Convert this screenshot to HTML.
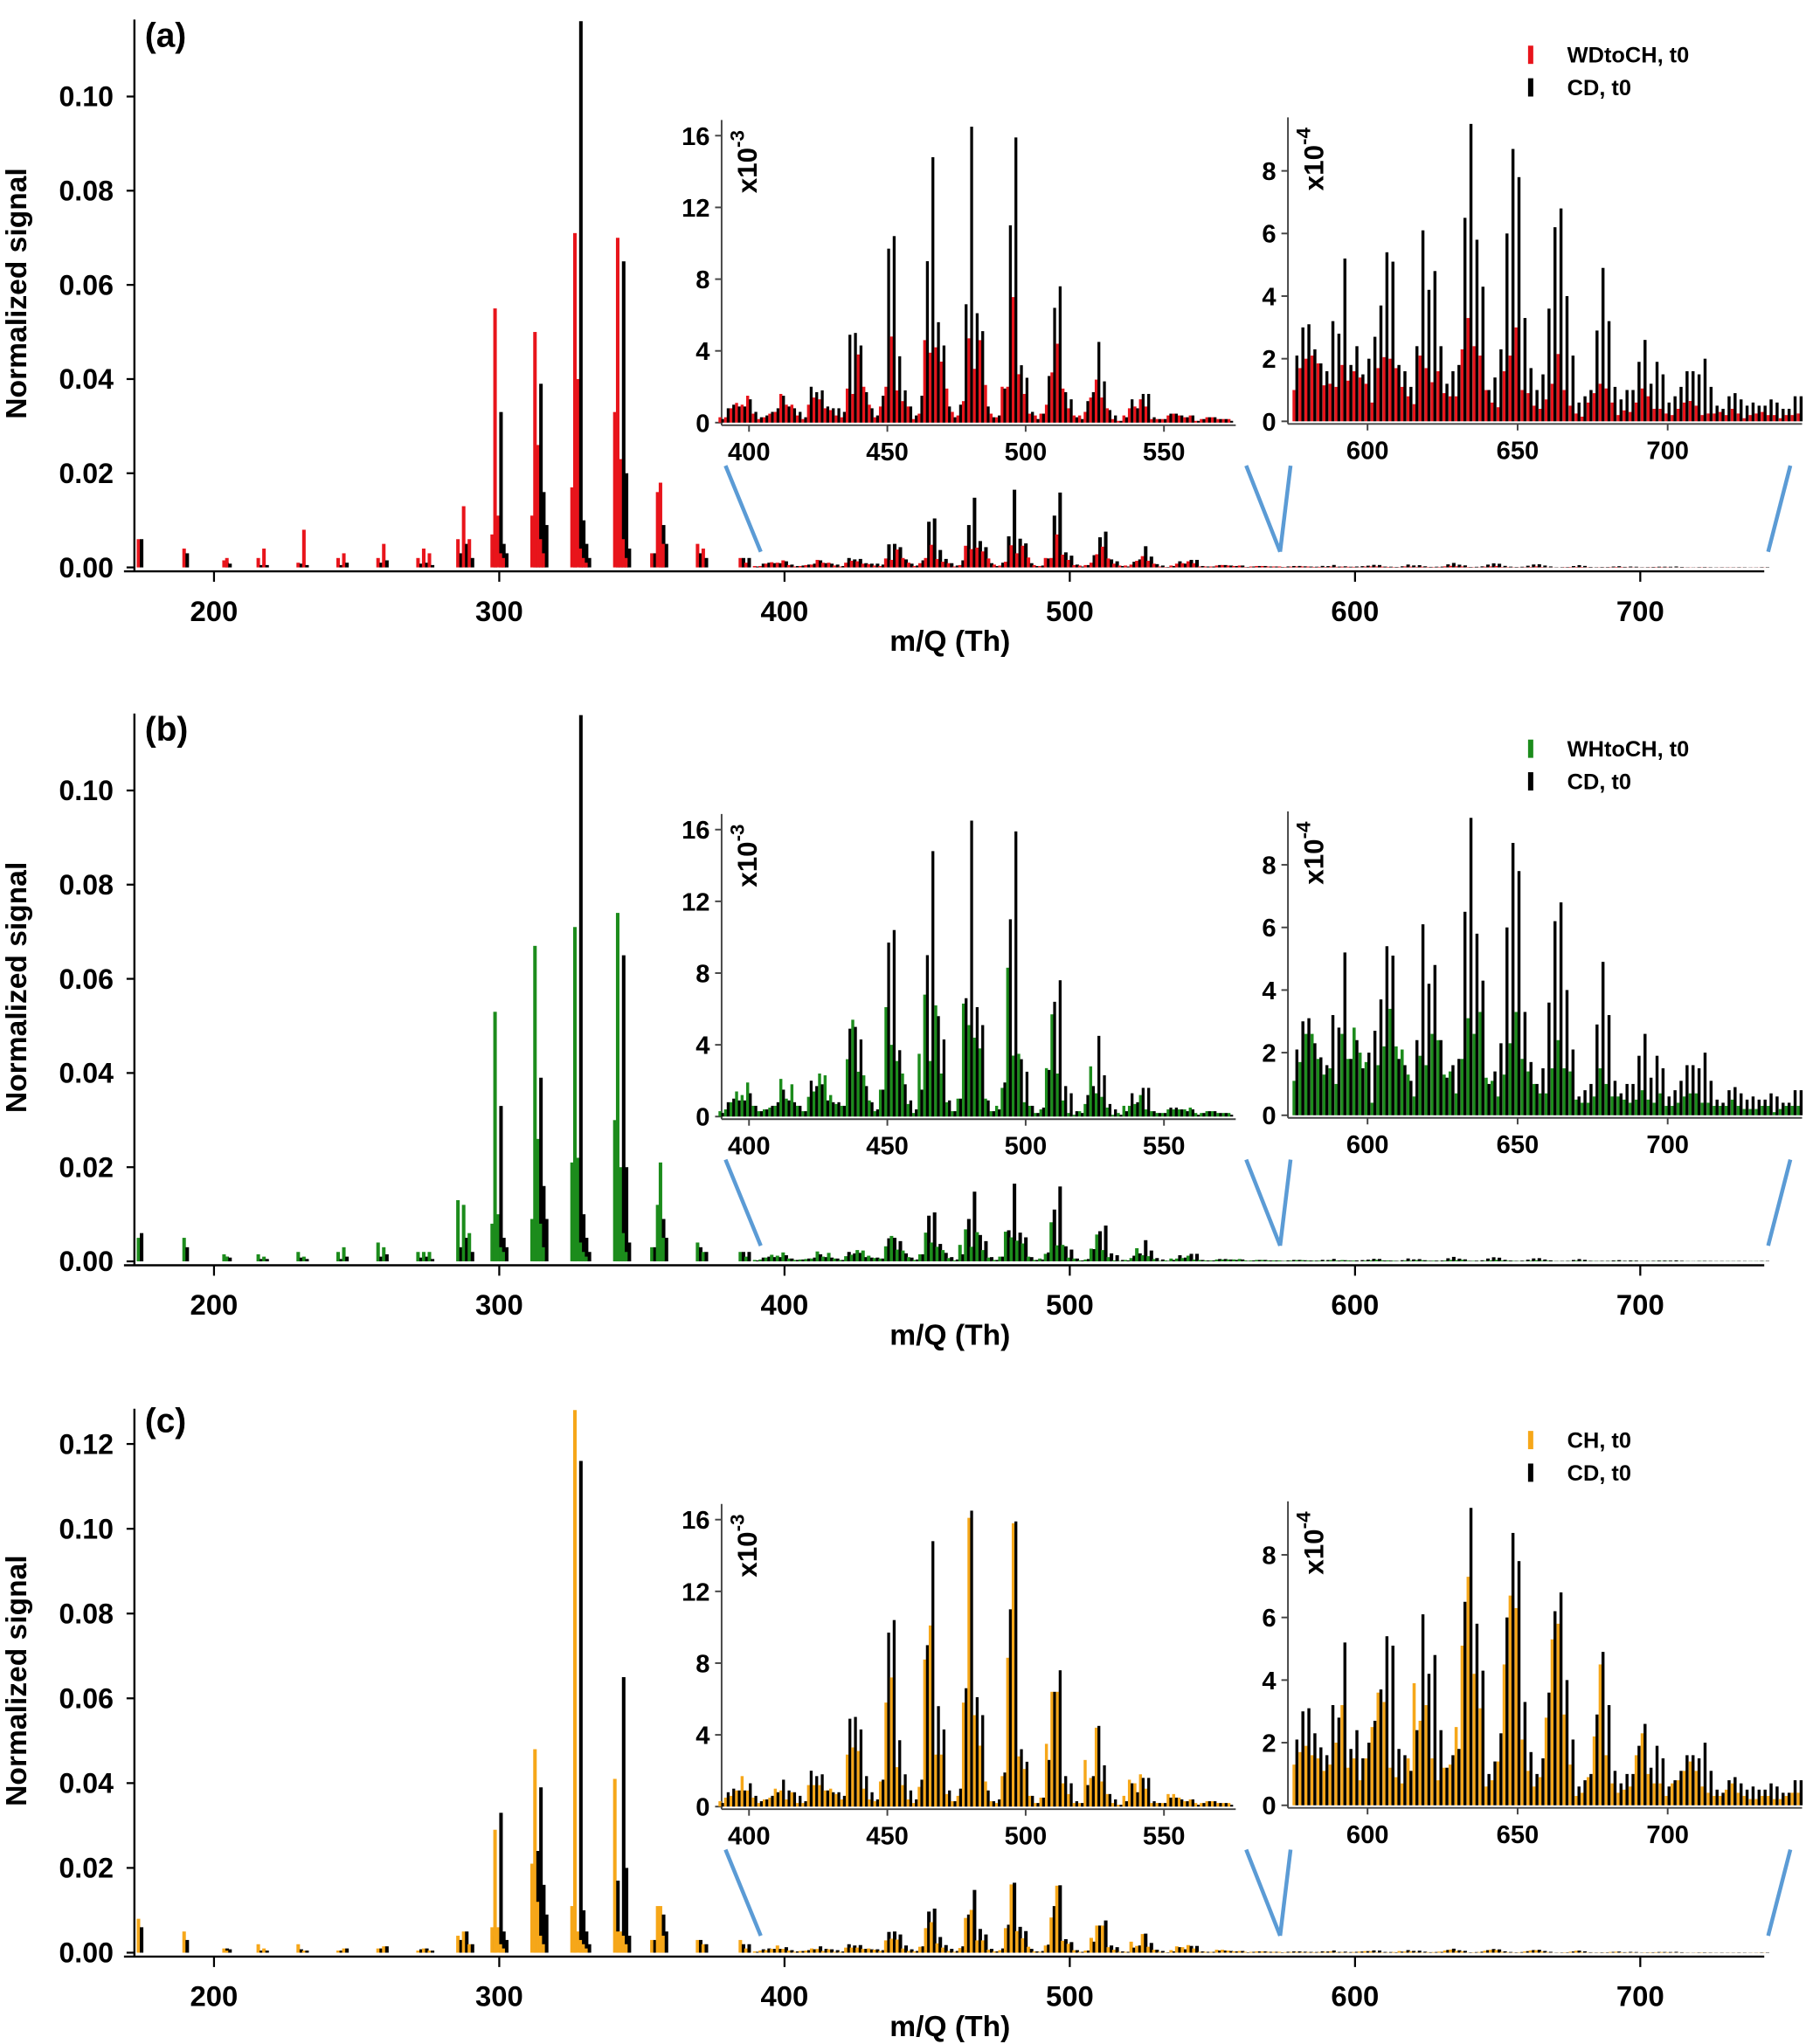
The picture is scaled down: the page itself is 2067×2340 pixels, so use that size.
<!DOCTYPE html>
<html><head><meta charset="utf-8">
<style>
html,body{margin:0;padding:0;background:#fff;}
svg{display:block;font-family:"Liberation Sans",Arial,sans-serif;font-weight:bold;}
</style></head>
<body>
<svg id="fig" width="2067" height="2340" viewBox="0 0 1384 1567" preserveAspectRatio="none" xmlns="http://www.w3.org/2000/svg"></svg>
<script>
// ---- data ----
const mainXTicks=[200,300,400,500,600,700];
const yTicksAB=[0,0.02,0.04,0.06,0.08,0.10];
const yTicksC=[0,0.02,0.04,0.06,0.08,0.10,0.12];
const in1XTicks=[400,450,500,550];
const in1YTicks=[0,4,8,12,16];
const in2XTicks=[600,650,700];
const in2YTicks=[0,2,4,6,8];
const seriesNames=["WDtoCH, t0","WHtoCH, t0","CH, t0"];
const refName="CD, t0";

const lowMass=[174,190,204,205,216,218,230,232,244,246,258,260,272,274,276,286,288,290,298,299,300,301,302,312,313,314,315,316,326,327,328,329,330,331,341,342,343,344,345,354,356,357,358,370,372,385,387];
const lowRed=[.006,.004,.0015,.002,.002,.004,.001,.008,.002,.003,.002,.005,.002,.004,.003,.006,.013,.006,.007,.055,.011,.003,.002,.011,.050,.026,.006,.003,.017,.071,.040,.004,.002,.001,.033,.070,.023,.006,.002,.003,.016,.018,.005,.005,.004,.002,.001];
const lowGreen=[.005,.005,.0015,.001,.0015,.001,.002,.001,.002,.003,.004,.003,.002,.002,.002,.013,.012,.006,.008,.053,.010,.003,.002,.009,.067,.026,.008,.003,.021,.071,.022,.004,.002,.001,.030,.074,.020,.006,.002,.003,.012,.021,.005,.004,.002,.002,.001];
const lowOrange=[.008,.005,.001,.0005,.002,.001,.002,.0005,.0005,.001,.001,.0015,.0005,.001,.0005,.004,.005,.002,.006,.029,.006,.002,.001,.021,.048,.012,.004,.002,.011,.128,.005,.003,.002,.001,.041,.005,.005,.004,.002,.003,.011,.011,.004,.003,.002,.003,.001];
const lowBlack=[.006,.003,.001,.0008,.0005,.0005,.0008,.0005,.0005,.001,.001,.0015,.0008,.001,.0005,.003,.005,.002,.004,0,.033,.005,.003,.004,.024,.039,.016,.009,.005,0,.116,.010,.005,.002,.017,.003,.065,.020,.004,.003,.006,.009,.005,.003,.002,.002,.002];

const in1Start=390; // step 2, x10^-3
const in1Black=[0.2,0.8,1.0,0.9,0.9,1.3,0.6,0.3,0.4,0.6, 0.8,1.5,0.9,0.8,0.6,0.3,2.0,1.7,1.8,0.9, 0.8,0.8,0.6,4.9,5.0,4.3,1.7,0.8,0.4,1.5, 9.7,10.4,3.7,1.8,0.9,0.4,1.5,9.0,14.8,5.6, 4.3,0.9,0.3,1.0,6.6,16.5,6.1,5.1,0.9,0.3, 0.4,1.9,11.0,15.9,3.2,2.5,0.6,0.2,0.5,2.6, 6.4,7.6,1.7,1.3,0.3,0.2,1.2,1.7,4.5,2.3, 0.7,0.4,0.1,0.3,1.3,0.8,1.6,1.6,0.3,0.2, 0.2,0.5,0.5,0.4,0.3,0.4,0.1,0.2,0.3,0.3, 0.2,0.2,0.1];
const in1Red=[0.3,0.3,0.8,1.1,1.0,1.5,0.5,0.2,0.3,0.5, 0.6,1.6,1.0,1.0,0.4,0.2,1.0,1.4,1.3,0.8, 0.7,0.4,0.3,1.9,1.6,3.8,2.0,1.0,0.3,0.9, 2.0,4.8,1.8,1.2,0.9,0.2,0.5,4.6,3.9,4.2, 3.4,1.9,0.6,0.4,1.2,4.7,3.0,4.6,2.1,0.5, 0.3,2.0,2.0,7.0,2.7,1.6,0.5,0.4,0.5,1.0, 2.8,4.4,1.9,0.8,0.4,0.4,0.6,1.4,2.4,1.4, 0.8,0.2,0.1,0.4,0.8,0.9,1.3,0.9,0.2,0.2, 0.2,0.4,0.5,0.4,0.3,0.4,0.1,0.2,0.3,0.3, 0.2,0.2,0.2];
const in1Green=[0.3,0.4,0.8,1.4,1.2,1.9,0.6,0.3,0.4,0.5, 0.6,2.1,1.0,1.8,0.6,0.3,1.1,1.4,2.4,2.3, 1.2,0.7,0.6,3.2,5.4,2.5,2.3,0.9,0.3,1.5, 6.1,4.0,3.1,2.4,0.7,0.2,3.5,6.8,3.1,6.2, 2.4,0.8,0.3,1.0,6.3,5.1,4.4,3.8,1.0,0.3, 0.6,1.6,8.3,3.4,3.5,0.8,0.6,0.2,0.4,2.7, 5.7,2.4,0.9,0.2,0.1,0.3,0.7,2.8,1.3,1.1, 0.5,0.1,0.2,0.6,0.6,0.7,1.2,0.4,0.3,0.2, 0.2,0.4,0.4,0.4,0.4,0.5,0.2,0.2,0.3,0.3, 0.2,0.2,0.2];
const in1Orange=[0.3,0.5,0.6,0.9,1.7,0.9,0.5,0.2,0.4,0.5, 1.0,0.9,0.4,0.8,0.2,0.2,1.2,1.2,1.2,0.9, 1.0,0.7,0.4,2.9,3.3,3.1,1.0,0.4,0.3,1.4, 5.8,7.2,2.2,1.2,0.4,0.2,1.1,8.2,10.1,2.9, 2.9,0.7,0.3,0.6,5.8,16.1,5.1,3.4,1.4,0.3, 0.2,1.7,8.3,15.8,2.8,2.1,0.6,0.2,0.5,3.5, 6.4,6.4,1.3,0.7,0.2,0.2,2.6,1.6,4.4,1.4, 0.7,0.2,0.1,0.6,1.5,1.3,1.8,1.0,0.2,0.2, 0.2,0.7,0.7,0.5,0.3,0.4,0.2,0.2,0.3,0.3, 0.2,0.2,0.2];

const in2Start=576; // step 2, x10^-4
const in2Black=[2.1,3.0,3.1,2.3,1.85,1.6,3.2,2.8,5.2,1.8, 2.4,1.5,2.0,2.7,3.7,5.4,5.1,1.8,1.6,1.1, 2.4,6.1,4.2,4.8,2.4,1.2,1.6,1.8,6.5,9.5, 5.8,4.3,1.0,1.4,2.3,6.0,8.7,7.8,3.3,1.7, 1.0,1.5,3.6,6.2,6.8,4.0,2.1,0.6,0.8,1.0, 2.9,4.9,3.2,1.1,0.7,1.0,1.0,1.9,2.6,1.2, 1.9,1.5,0.6,0.8,1.1,1.6,1.6,1.5,2.0,1.1, 0.5,0.4,0.8,0.9,0.7,0.5,0.6,0.5,0.5,0.7, 0.6,0.4,0.4,0.8,0.8];
const in2Red=[1.0,1.7,2.0,2.1,1.85,1.15,1.2,1.1,1.8,1.3, 1.6,1.4,1.2,0.6,1.7,2.05,2.0,1.7,1.1,0.8, 0.55,2.1,1.7,1.25,1.6,0.9,0.8,0.8,2.3,3.3, 2.4,2.1,1.0,0.6,0.45,1.6,2.1,3.0,1.0,0.9, 0.5,0.4,0.7,1.2,2.15,1.0,0.5,0.25,0.15,0.6, 0.9,1.2,1.05,0.6,0.2,0.35,0.3,0.6,1.05,0.8, 0.4,0.4,0.25,0.2,0.4,0.6,0.65,0.5,0.2,0.25, 0.25,0.3,0.2,0.4,0.25,0.1,0.2,0.25,0.3,0.2, 0.2,0.1,0.2,0.2,0.25];
const in2Green=[1.1,1.7,2.6,2.6,1.8,1.3,1.5,1.0,2.6,1.8, 2.8,2.0,1.7,0.4,1.6,2.2,3.4,2.2,2.1,1.3, 0.6,1.9,1.6,2.6,2.4,1.3,1.4,0.7,1.8,3.1, 2.6,3.3,1.2,1.1,0.6,1.3,2.3,3.3,1.8,1.4, 1.0,0.7,0.7,1.5,2.4,1.5,1.4,0.5,0.4,0.4, 0.6,1.5,1.0,0.6,0.6,0.5,0.4,0.5,0.8,0.5, 0.4,0.7,0.3,0.3,0.4,0.6,0.7,0.7,0.4,0.4, 0.3,0.3,0.3,0.5,0.3,0.2,0.2,0.2,0.3,0.3, 0.1,0.2,0.3,0.3,0.3];
const in2Orange=[1.3,1.7,1.9,1.6,1.5,1.1,1.3,2.0,3.2,1.2, 1.5,0.8,1.5,2.5,3.6,3.3,1.2,0.9,0.7,1.5, 3.9,2.7,3.2,1.5,0.8,1.2,1.3,2.5,5.1,7.3, 4.2,3.1,0.6,0.8,1.4,4.5,6.7,6.3,2.1,1.1, 0.6,0.9,2.8,5.3,5.8,2.9,1.3,0.3,0.4,0.9, 2.2,4.5,1.6,0.7,0.4,0.5,0.6,1.6,2.3,1.0, 0.7,0.7,0.3,0.7,0.8,1.1,1.4,1.1,0.6,0.4, 0.3,0.3,0.5,0.7,0.4,0.3,0.2,0.2,0.3,0.3, 0.2,0.2,0.3,0.4,0.4];

// ---- drawing ----
const NS="http://www.w3.org/2000/svg";
const svg=document.getElementById('fig');
function mk(tag,attrs,parent,txt){const e=document.createElementNS(NS,tag);for(const k in attrs)e.setAttribute(k,attrs[k]);if(txt!==undefined)e.textContent=txt;(parent||svg).appendChild(e);return e;}

const panels=[
 {oy:0,label:'(a)',color:'#e8141b',low:lowRed,in1:in1Red,in2:in2Red,name:seriesNames[0],yTicks:yTicksAB,base:435,k:3610,top:15,io:0},
 {oy:532,label:'(b)',color:'#1c8c1c',low:lowGreen,in1:in1Green,in2:in2Green,name:seriesNames[1],yTicks:yTicksAB,base:967,k:3610,top:547,io:532},
 {oy:1062,label:'(c)',color:'#f6a719',low:lowOrange,in1:in1Orange,in2:in2Orange,name:seriesNames[2],yTicks:yTicksC,base:1497,k:3250,top:1080,io:1061}
];

const X=m=>164+(m-200)*2.186;
const X1=m=>574+(m-400)*2.12;
const X2=m=>1048+(m-600)*2.3;

panels.forEach((p,pi)=>{
 const g=mk('g',{});
 
 
 const Y=v=>p.base-v*p.k;
 const axisY=p.base+3;
 const ya=mk('line',{x1:103,y1:p.top,x2:103,y2:axisY,stroke:'#000','stroke-width':1.6},g);
 
 const xa=mk('line',{x1:95,y1:axisY,x2:1352,y2:axisY,stroke:'#000','stroke-width':1.6},g);
 
 p.yTicks.forEach(t=>{
  mk('line',{x1:97,y1:Y(t),x2:103,y2:Y(t),stroke:'#000','stroke-width':1.5},g);
  const tl=mk('text',{x:87,y:Y(t)+7.5,'text-anchor':'end','font-size':21.5},g,t.toFixed(2));
  
 });
 mainXTicks.forEach(t=>{
  mk('line',{x1:X(t),y1:axisY,x2:X(t),y2:axisY+8,stroke:'#000','stroke-width':1.5},g);
  const tl=mk('text',{x:X(t),y:p.oy+476,'text-anchor':'middle','font-size':22},g,String(t));
  
 });
 const xt=mk('text',{x:728,y:p.oy+499,'text-anchor':'middle','font-size':22.5},g,'m/Q (Th)');
 
 const cy=(p.top+p.base)/2;
 const yt=mk('text',{x:20,y:cy,'text-anchor':'middle','font-size':22.5,transform:`rotate(-90 20 ${cy})`},g,'Normalized signal');
 
 const pl=mk('text',{x:111,y:p.oy+36,'font-size':26},g,p.label);
 

 const bars=mk('g',{},g);
 
 function mainBar(m,v,col,dx){ if(v<=0)return; const h=v*p.k;
  const r=mk('rect',{x:X(m)+dx,y:p.base-h,width:2.7,height:h,fill:col},bars);
  }
 lowMass.forEach((m,i)=>{mainBar(m,p.low[i],p.color,-2.4);mainBar(m,lowBlack[i],'#000',0);});
 in1Black.forEach((v,i)=>{const m=in1Start+2*i;mainBar(m,p.in1[i]*1e-3,p.color,-2.4);mainBar(m,v*1e-3,'#000',0);});
 in2Black.forEach((v,i)=>{const m=in2Start+2*i;mainBar(m,p.in2[i]*1e-4,p.color,-2.4);mainBar(m,v*1e-4,'#000',0);});

 const o=p.io;
 [[556,357,583,423],[955,357,981,423],[981,423,989,357],[1372,357,1355,423]].forEach(l=>{
  const ln=mk('line',{x1:l[0],y1:l[1]+o,x2:l[2],y2:l[3]+o,stroke:'#5b9bd5','stroke-width':3},g);
  
 });

 const i1=mk('g',{},g);
 
 const Y1=v=>324+o-v*13.75;
 i1Axes(i1,553,947,Y1,in1YTicks,in1XTicks,X1,o,'-3',580,92+o);
 in1Black.forEach((v,i)=>{const m=in1Start+2*i;
  const hc=p.in1[i]*13.75;const rc=mk('rect',{x:X1(m)-2.2,y:324+o-hc,width:2.3,height:hc,fill:p.color},i1);
  
  const hb=v*13.75;const rb=mk('rect',{x:X1(m)-0.1,y:324+o-hb,width:2.2,height:hb,fill:'#000'},i1);
  });
 const i2=mk('g',{},g);
 
 const Y2=v=>323+o-v*24;
 i1Axes(i2,987,1381,Y2,in2YTicks,in2XTicks,X2,o,'-4',1014,90+o);
 in2Black.forEach((v,i)=>{const m=in2Start+2*i;
  const hc=p.in2[i]*24;const rc=mk('rect',{x:X2(m)-2.3,y:323+o-hc,width:2.4,height:hc,fill:p.color},i2);
  
  const hb=v*24;const rb=mk('rect',{x:X2(m)-0.1,y:323+o-hb,width:2.3,height:hb,fill:'#000'},i2);
  });

 const lg=mk('g',{},g);
 
 const e1=mk('rect',{x:1171,y:p.oy+35,width:4,height:14,fill:p.color},lg);
 
 const t1=mk('text',{x:1201,y:p.oy+48,'font-size':17},lg,p.name);
 
 const e2=mk('rect',{x:1171,y:p.oy+60,width:4,height:14,fill:'#000'},lg);
 
 const t2=mk('text',{x:1201,y:p.oy+73,'font-size':17},lg,refName);
 
});

function i1Axes(gr,x0,x1,Yf,yt,xt,Xf,o,exp,ex,ey){
 const base=Yf(0)+2;
 mk('line',{x1:x0,y1:ey,x2:x0,y2:base,stroke:'#444','stroke-width':1.3},gr);
 mk('line',{x1:x0,y1:base,x2:x1,y2:base,stroke:'#444','stroke-width':1.3},gr);
 yt.forEach(t=>{mk('line',{x1:x0-5,y1:Yf(t),x2:x0,y2:Yf(t),stroke:'#444','stroke-width':1.3},gr);
  const tl=mk('text',{x:x0-9,y:Yf(t)+7,'text-anchor':'end','font-size':19.5},gr,String(t));
  });
 xt.forEach(t=>{mk('line',{x1:Xf(t),y1:base,x2:Xf(t),y2:base+5,stroke:'#444','stroke-width':1.3},gr);
  const tl=mk('text',{x:Xf(t),y:base+27,'text-anchor':'middle','font-size':19.5},gr,String(t));
  });
 const ty=ey+32;
 const sc=mk('text',{x:ex,y:ty,'font-size':21,transform:`rotate(-90 ${ex} ${ty})`,'text-anchor':'middle'},gr);
 
 const a=document.createElementNS(NS,'tspan');a.textContent='x10';sc.appendChild(a);
 const b=document.createElementNS(NS,'tspan');b.setAttribute('dy','-10');b.setAttribute('font-size','15');b.textContent=exp;sc.appendChild(b);
}
</script>
</body></html>
